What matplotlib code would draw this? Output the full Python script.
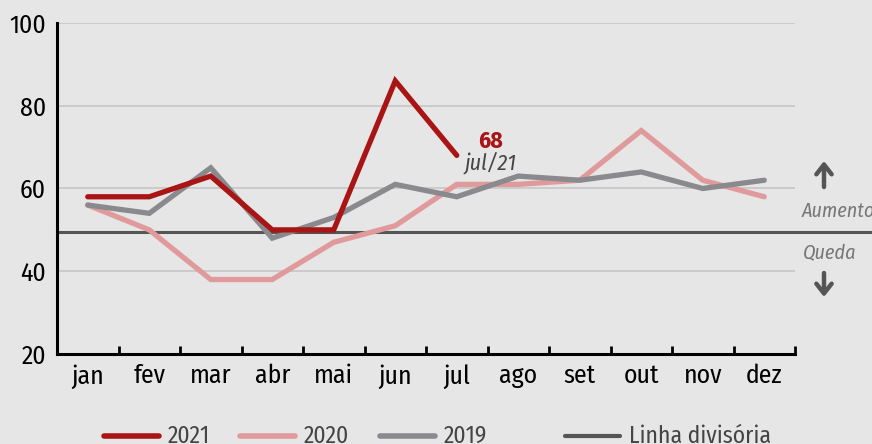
import matplotlib.pyplot as plt
from matplotlib.lines import Line2D
from matplotlib import font_manager

nomes = {f.name for f in font_manager.fontManager.ttflist}
fonte = next((n for n in ['Fira Sans Condensed', 'Fira Sans Extra Condensed', 'Roboto Condensed']
              if n in nomes), 'DejaVu Sans')
plt.rcParams['font.family'] = [fonte, 'DejaVu Sans']

meses = ['jan', 'fev', 'mar', 'abr', 'mai', 'jun', 'jul', 'ago', 'set', 'out', 'nov', 'dez']
v2021 = [58, 58, 63, 50, 50, 86, 68]
v2020 = [56, 50, 38, 38, 47, 51, 61, 61, 62, 74, 62, 58]
v2019 = [56, 54, 65, 48, 53, 61, 58, 63, 62, 64, 60, 62]
linha_divisoria = 49.5
y_ticks = [20, 40, 60, 80, 100]

c2021 = '#a91414'
c2020 = '#e09a9c'
c2019 = '#8a898e'
cdiv = '#555555'
bg = '#e6e6e6'

fig = plt.figure(figsize=(8.72, 4.44), dpi=100, facecolor=bg)
ax = fig.add_axes([57 / 872, 90 / 444, (795 - 57) / 872, (354 - 23) / 444])
ax.set_facecolor(bg)

ax.set_xlim(0, 12)
ax.set_ylim(20, 100)

for y in y_ticks[1:]:
    ax.axhline(y, color='#c6c6c6', lw=1.2, zorder=1)

ax.axhline(linha_divisoria, xmin=0, xmax=(872 - 57) / (795 - 57), color=cdiv,
           lw=2.2, zorder=2, clip_on=False)

x_all = [i + 0.5 for i in range(12)]
ax.plot(x_all, v2020, color=c2020, lw=3.8, zorder=3, solid_capstyle='round', solid_joinstyle='miter')
ax.plot(x_all, v2019, color=c2019, lw=3.8, zorder=4, solid_capstyle='round', solid_joinstyle='miter')
ax.plot(x_all[:len(v2021)], v2021, color=c2021, lw=3.8, zorder=5, solid_capstyle='round', solid_joinstyle='miter')

# anotação do último valor
ax.text(7.05, 68.6, str(v2021[-1]), color=c2021, fontsize=17, fontweight='bold',
        ha='center', va='bottom')
ax.text(7.05, 68.9, 'jul/21', color='#444444', fontsize=16, fontstyle='italic',
        ha='center', va='top')

for s in ['top', 'right']:
    ax.spines[s].set_visible(False)
ax.spines['left'].set_linewidth(2.2)
ax.spines['bottom'].set_linewidth(2.2)
ax.spines['left'].set_zorder(6)

ax.set_xticks(range(1, 13))
ax.set_xticklabels([])
ax.tick_params(axis='x', which='major', direction='in', length=6, width=2)
ax.set_xticks(x_all, minor=True)
ax.set_xticklabels(meses, minor=True, fontsize=18.5)
ax.tick_params(axis='x', which='minor', length=0, pad=7)

ax.set_yticks(y_ticks)
ax.set_yticklabels([str(v) for v in y_ticks], fontsize=18.5)
ax.tick_params(axis='y', length=0, pad=8)

# legenda lateral (setas + textos)
seta = dict(arrowstyle='->,head_length=0.7,head_width=0.55', lw=3.2, color='#555555',
            capstyle='round', joinstyle='round', shrinkA=0, shrinkB=0)
ax.annotate('', xy=(824, 444 - 161), xytext=(824, 444 - 187),
            xycoords='figure pixels', textcoords='figure pixels', arrowprops=seta)
ax.annotate('', xy=(824, 444 - 297), xytext=(824, 444 - 273),
            xycoords='figure pixels', textcoords='figure pixels', arrowprops=seta)
fig.text(838 / 872, 1 - 211 / 444, 'Aumento', color='#777777', fontsize=14.5,
         fontstyle='italic', ha='center', va='center')
fig.text(830 / 872, 1 - 253 / 444, 'Queda', color='#777777', fontsize=14.5,
         fontstyle='italic', ha='center', va='center')

# legenda inferior
legenda = [('2021', c2021, 104), ('2020', c2020, 240), ('2019', c2019, 380),
           ('Linha divisória', cdiv, 565)]
y_leg = 444 - 436
for rotulo, cor, x0 in legenda:
    lw = 3 if rotulo.startswith('Linha') else 4
    fig.add_artist(Line2D([x0 / 872, (x0 + 55) / 872], [y_leg / 444, y_leg / 444],
                          color=cor, lw=lw, solid_capstyle='round'))
    fig.text((x0 + 64) / 872, y_leg / 444, rotulo, color='#444444', fontsize=17,
             ha='left', va='center')

fig.savefig('out.png', dpi=100, facecolor=bg)
